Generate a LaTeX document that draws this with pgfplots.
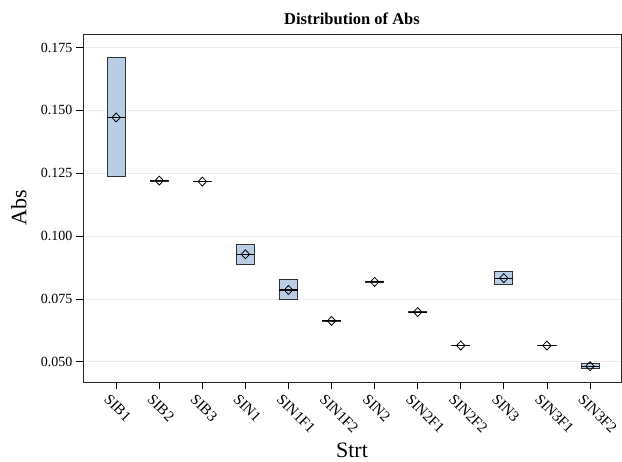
\documentclass[border=0pt]{standalone}
\usepackage{pgfplots}
\pgfplotsset{compat=1.18}
\usepackage{fontspec}
\setmainfont{Liberation Serif}
\definecolor{boxfill}{RGB}{185,205,229}
\definecolor{gridc}{RGB}{236,236,236}
\pgfplotsset{
  bx/.style={fill=boxfill, draw=black!80, line width=0.8pt},
  md/.style={black, line width=1.1pt},
}
\begin{document}
\begin{tikzpicture}
\useasboundingbox (-83pt,-80pt) rectangle (539pt,382pt);
\begin{axis}[
  at={(0,0)}, anchor=south west, scale only axis, width=538pt, height=348pt,
  xmin=-0.77, xmax=11.72, ymin=0.042, ymax=0.1804,
  xtick={0,...,11},
  xticklabels={SIB1,SIB2,SIB3,SIN1,SIN1F1,SIN1F2,SIN2,SIN2F1,SIN2F2,SIN3,SIN3F1,SIN3F2},
  ytick={0.05,0.075,0.1,0.125,0.15,0.175},
  yticklabel style={/pgf/number format/fixed,/pgf/number format/fixed zerofill,/pgf/number format/precision=3},
  /pgf/number format/assume math mode=true,
  scaled y ticks=false,
  tick pos=left, tick align=outside, major tick length=7pt,
  every tick/.style={black, line width=0.8pt},
  ymajorgrids, grid style={gridc, line width=0.8pt},
  axis line style={black!85, line width=0.9pt},
  tick label style={font=\fontsize{14}{16}\selectfont},
  xticklabel style={rotate=-45, anchor=north west, inner sep=1pt, xshift=-2pt, yshift=-6pt, font=\fontsize{15}{17}\selectfont},
  title={Distribution of Abs},
  every axis title/.style={at={(axis description cs:0.5,1.043)}, anchor=center, font=\bfseries\fontsize{16.5}{18}\selectfont},
  xlabel={Strt}, ylabel={Abs},
  every axis x label/.style={at={(axis description cs:0.5,-0.197)}, anchor=center, inner sep=0pt, font=\fontsize{22}{24}\selectfont},
  every axis y label/.style={at={(axis description cs:-0.119,0.5)}, rotate=90, anchor=center, font=\fontsize{22}{24}\selectfont},
]
% boxes (lower quartile, upper quartile)
\addplot[bx] coordinates {(-0.21,0.1237) (0.21,0.1237) (0.21,0.1710) (-0.21,0.1710)} --cycle;
\addplot[bx] coordinates {(0.79,0.1219) (1.21,0.1219) (1.21,0.1223) (0.79,0.1223)} --cycle;
\addplot[bx] coordinates {(1.79,0.1216) (2.21,0.1216) (2.21,0.1218) (1.79,0.1218)} --cycle;
\addplot[bx] coordinates {(2.79,0.0888) (3.21,0.0888) (3.21,0.0968) (2.79,0.0968)} --cycle;
\addplot[bx] coordinates {(3.79,0.0749) (4.21,0.0749) (4.21,0.0827) (3.79,0.0827)} --cycle;
\addplot[bx] coordinates {(4.79,0.0662) (5.21,0.0662) (5.21,0.0664) (4.79,0.0664)} --cycle;
\addplot[bx] coordinates {(5.79,0.0816) (6.21,0.0816) (6.21,0.0820) (5.79,0.0820)} --cycle;
\addplot[bx] coordinates {(6.79,0.0696) (7.21,0.0696) (7.21,0.0700) (6.79,0.0700)} --cycle;
\addplot[bx] coordinates {(7.79,0.0564) (8.21,0.0564) (8.21,0.0566) (7.79,0.0566)} --cycle;
\addplot[bx] coordinates {(8.79,0.0809) (9.21,0.0809) (9.21,0.0859) (8.79,0.0859)} --cycle;
\addplot[bx] coordinates {(9.79,0.0564) (10.21,0.0564) (10.21,0.0566) (9.79,0.0566)} --cycle;
\addplot[bx] coordinates {(10.79,0.0473) (11.21,0.0473) (11.21,0.0492) (10.79,0.0492)} --cycle;
% medians
\addplot[md] coordinates {(-0.21,0.1472) (0.21,0.1472)};
\addplot[md] coordinates {(0.79,0.1221) (1.21,0.1221)};
\addplot[md] coordinates {(1.79,0.1217) (2.21,0.1217)};
\addplot[md] coordinates {(2.79,0.0928) (3.21,0.0928)};
\addplot[md] coordinates {(3.79,0.0786) (4.21,0.0786)};
\addplot[md] coordinates {(4.79,0.0663) (5.21,0.0663)};
\addplot[md] coordinates {(5.79,0.0818) (6.21,0.0818)};
\addplot[md] coordinates {(6.79,0.0698) (7.21,0.0698)};
\addplot[md] coordinates {(7.79,0.0565) (8.21,0.0565)};
\addplot[md] coordinates {(8.79,0.0833) (9.21,0.0833)};
\addplot[md] coordinates {(9.79,0.0565) (10.21,0.0565)};
\addplot[md] coordinates {(10.79,0.0483) (11.21,0.0483)};
% means
\addplot[only marks, mark=diamond, mark size=4.5pt, mark options={draw=black, xscale=1.25, line width=0.8pt}] coordinates {
(0,0.1472) (1,0.1221) (2,0.1217) (3,0.0928) (4,0.0786) (5,0.0663) (6,0.0818) (7,0.0698) (8,0.0565) (9,0.0833) (10,0.0565) (11,0.0483)};
\end{axis}
\end{tikzpicture}
\end{document}
